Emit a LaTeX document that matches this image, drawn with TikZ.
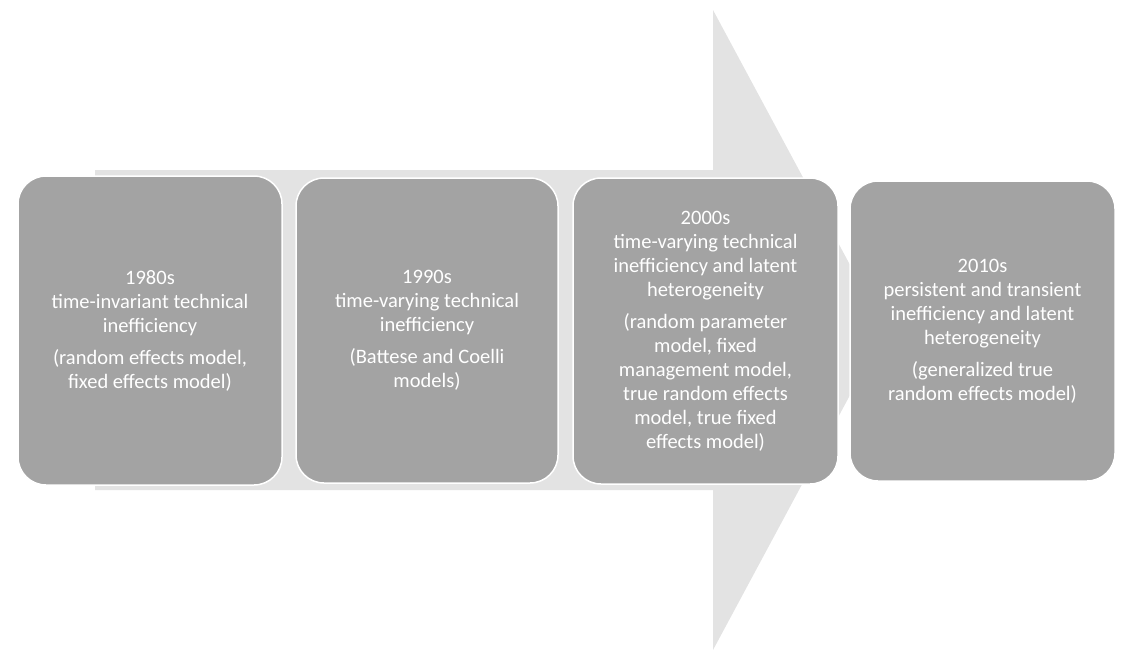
\documentclass[tikz,border=0pt]{standalone}
\usepackage{fontspec}
\setmainfont{Carlito}
\begin{document}
\begin{tikzpicture}[x=1pt,y=-1pt,
  box/.style={draw=white,line width=1.5pt,fill=boxgray,rounded corners=28pt,text=white,align=center,font=\fontsize{20.5}{24}\selectfont}]
\definecolor{boxgray}{HTML}{A3A3A3}
\definecolor{arrowgray}{HTML}{E3E3E3}
\useasboundingbox (0,0) rectangle (1129,665);
\fill[arrowgray] (95,170) -- (713,170) -- (713,10) -- (885,330) -- (713,650) -- (713,490) -- (95,490) -- cycle;
\node[box,minimum width=264pt,minimum height=309pt] (b1) at (150,330.5) {1980s\\time-invariant technical\\inefficiency\\[8pt](random effects model,\\fixed effects model)};
\node[box,minimum width=262pt,minimum height=305pt] (b2) at (427,330.5) {1990s\\time-varying technical\\inefficiency\\[8pt](Battese and Coelli\\models)};
\node[box,minimum width=265pt,minimum height=306pt] (b3) at (705.5,331) {2000s\\time-varying technical\\inefficiency and latent\\heterogeneity\\[8pt](random parameter\\model, fixed\\management model,\\true random effects\\model, true fixed\\effects model)};
\node[box,minimum width=265pt,minimum height=300pt] (b4) at (982.5,331) {2010s\\persistent and transient\\inefficiency and latent\\heterogeneity\\[8pt](generalized true\\random effects model)};
\end{tikzpicture}
\end{document}
